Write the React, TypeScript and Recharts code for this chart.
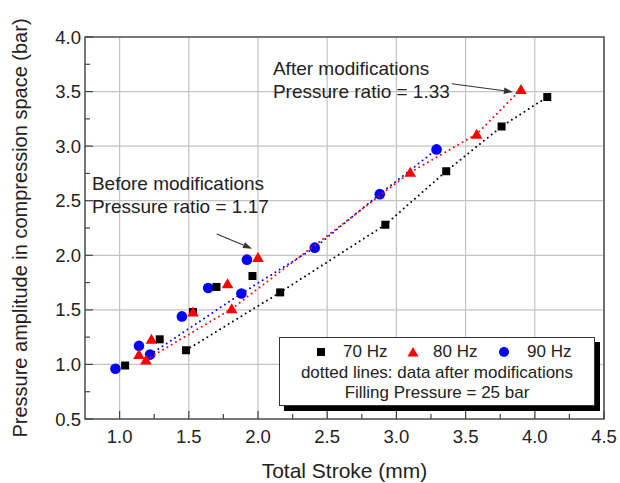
import React from 'react';
import {
  CartesianGrid,
  ComposedChart,
  ReferenceArea,
  ReferenceDot,
  ReferenceLine,
  Scatter,
  XAxis,
  YAxis,
} from 'recharts';

// values: total stroke (mm) and pressure amplitude (bar)
const stroke70Before = [1.04, 1.29, 1.53, 1.7, 1.96];
const pressure70Before = [0.99, 1.23, 1.48, 1.71, 1.81];
const stroke70After = [1.48, 2.16, 2.92, 3.36, 3.76, 4.09];
const pressure70After = [1.13, 1.66, 2.28, 2.77, 3.18, 3.45];

const stroke80Before = [1.14, 1.23, 1.53, 1.78, 2.0];
const pressure80Before = [1.09, 1.23, 1.48, 1.74, 1.98];
const stroke80After = [1.19, 1.81, 3.1, 3.58, 3.9];
const pressure80After = [1.04, 1.51, 2.76, 3.11, 3.52];

const stroke90Before = [0.97, 1.14, 1.45, 1.64, 1.92];
const pressure90Before = [0.96, 1.17, 1.44, 1.7, 1.96];
const stroke90After = [1.22, 1.88, 2.41, 2.88, 3.29];
const pressure90After = [1.09, 1.65, 2.07, 2.56, 2.97];

const xMajorTicks = [1.0, 1.5, 2.0, 2.5, 3.0, 3.5, 4.0, 4.5];
const xMinorTicks = [1.25, 1.75, 2.25, 2.75, 3.25, 3.75, 4.25];
const yMajorTicks = [0.5, 1.0, 1.5, 2.0, 2.5, 3.0, 3.5, 4.0];
const yMinorTicks = [0.75, 1.25, 1.75, 2.25, 2.75, 3.25, 3.75];

// annotation anchors in data units
const afterText = { x: 2.108, y: 3.653, lines: ['After modifications', 'Pressure ratio = 1.33'] };
const beforeText = { x: 0.8, y: 2.599, lines: ['Before modifications', 'Pressure ratio = 1.17'] };
const afterArrow = [{ x: 3.4, y: 3.571 }, { x: 3.842, y: 3.497 }];
const beforeArrow = [{ x: 1.702, y: 2.196 }, { x: 1.957, y: 2.061 }];

const font = '"Liberation Sans", Arial, sans-serif';
const textColor = '#222';

const zip = (xs: number[], ys: number[]) => xs.map((x, i) => ({ x, y: ys[i] }));

const Square = (p: any) => <rect x={p.cx - 4} y={p.cy - 4} width={8} height={8} fill="#000" />;
const Triangle = (p: any) => (
  <polygon
    points={`${p.cx},${p.cy - 5.5} ${p.cx + 5.8},${p.cy + 4.5} ${p.cx - 5.8},${p.cy + 4.5}`}
    fill="#ff0000"
  />
);
const Circle = (p: any) => <circle cx={p.cx} cy={p.cy} r={5.3} fill="#0000ff" />;

const dotted = (color: string) => ({
  stroke: color,
  strokeWidth: 2,
  strokeDasharray: '0 5',
  strokeLinecap: 'round' as const,
});

const XTick = (props: any) => {
  const { x, y, payload } = props;
  const major = xMajorTicks.includes(payload.value);
  return (
    <g>
      <line x1={x} x2={x} y1={y} y2={y - (major ? 8 : 5)} stroke="#444" strokeWidth={1.2} />
      {major && (
        <text x={x} y={y + 24} textAnchor="middle" fontSize={18.5} fontFamily={font} fill={textColor}>
          {payload.value.toFixed(1)}
        </text>
      )}
    </g>
  );
};

const YTick = (props: any) => {
  const { x, y, payload } = props;
  const major = yMajorTicks.includes(payload.value);
  return (
    <g>
      <line x1={x} x2={x + (major ? 8 : 5)} y1={y} y2={y} stroke="#444" strokeWidth={1.2} />
      {major && (
        <text x={x - 4} y={y + 6.5} textAnchor="end" fontSize={18.5} fontFamily={font} fill={textColor}>
          {payload.value.toFixed(1)}
        </text>
      )}
    </g>
  );
};

const TextBlock = (lines: string[]) => (p: any) => (
  <text fontSize={19} fontFamily={font} fill={textColor}>
    {lines.map((l, i) => (
      <tspan key={i} x={p.cx} y={p.cy + i * 23}>
        {l}
      </tspan>
    ))}
  </text>
);

const Arrow = (p: any) => {
  const { x1, y1, x2, y2 } = p;
  const a = Math.atan2(y2 - y1, x2 - x1);
  const len = 9;
  const w = 3.2;
  const bx = x2 - len * Math.cos(a);
  const by = y2 - len * Math.sin(a);
  const nx = -Math.sin(a) * w;
  const ny = Math.cos(a) * w;
  return (
    <g>
      <line x1={x1} y1={y1} x2={bx} y2={by} stroke="#333" strokeWidth={1.1} />
      <polygon points={`${x2},${y2} ${bx + nx},${by + ny} ${bx - nx},${by - ny}`} fill="#333" />
    </g>
  );
};

const legendMarker = (kind: string) => (
  <svg width={12} height={12} style={{ position: 'absolute', left: -6, top: -6 }}>
    {kind === 'square' && <rect x={2} y={2} width={8} height={8} fill="#000" />}
    {kind === 'triangle' && <polygon points="6,1 11.5,10.5 0.5,10.5" fill="#ff0000" />}
    {kind === 'circle' && <circle cx={6} cy={6} r={5} fill="#0000ff" />}
  </svg>
);

const Legend = () => {
  const item = (left: number, content: React.ReactNode) => (
    <div style={{ position: 'absolute', left, top: 14 }}>{content}</div>
  );
  const label = (left: number, text: string) => (
    <span style={{ position: 'absolute', left, top: 4, lineHeight: '20px', whiteSpace: 'nowrap' }}>{text}</span>
  );
  return (
    <div
      style={{
        position: 'absolute',
        left: 279,
        top: 337,
        width: 314,
        height: 67,
        border: '1px solid #333',
        background: '#fff',
        boxShadow: '5px 5px 0 #000',
        fontFamily: font,
        fontSize: 17,
        color: textColor,
      }}
    >
      {item(41, legendMarker('square'))}
      {label(63, '70 Hz')}
      {item(133, legendMarker('triangle'))}
      {label(153, '80 Hz')}
      {item(224, legendMarker('circle'))}
      {label(247, '90 Hz')}
      <div style={{ position: 'absolute', left: 0, right: 0, top: 25, textAlign: 'center', lineHeight: '20px', whiteSpace: 'nowrap' }}>
        dotted lines: data after modifications
      </div>
      <div style={{ position: 'absolute', left: 0, right: 0, top: 45, textAlign: 'center', lineHeight: '20px' }}>
        Filling Pressure = 25 bar
      </div>
    </div>
  );
};

export default function App() {
  return (
    <div style={{ position: 'absolute', left: 0, top: 0, width: 620, height: 483, background: '#fff' }}>
      <ComposedChart width={620} height={483} margin={{ top: 37, right: 16, bottom: 0, left: 0 }}>
        <CartesianGrid
          stroke="#c4c4c4"
          strokeWidth={1.2}
          horizontalValues={yMajorTicks}
          verticalValues={xMajorTicks}
        />
        <XAxis
          type="number"
          dataKey="x"
          domain={[0.75, 4.5]}
          ticks={[...xMajorTicks, ...xMinorTicks].sort((a, b) => a - b)}
          interval={0}
          tickSize={0}
          tickMargin={0}
          axisLine={false}
          tick={XTick}
          height={64}
          label={{
            value: 'Total Stroke (mm)',
            position: 'insideBottom',
            offset: 5,
            style: { fontSize: 21, fontFamily: font, fill: textColor },
          }}
        />
        <YAxis
          type="number"
          dataKey="y"
          domain={[0.5, 4.0]}
          ticks={[...yMajorTicks, ...yMinorTicks].sort((a, b) => a - b)}
          interval={0}
          tickSize={0}
          tickMargin={0}
          axisLine={false}
          tick={YTick}
          width={85}
          label={{
            value: 'Pressure amplitude in compression space (bar)',
            angle: -90,
            position: 'insideLeft',
            offset: 20,
            style: { fontSize: 20, fontFamily: font, fill: textColor, textAnchor: 'middle' },
          }}
        />
        <ReferenceArea x1={0.75} x2={4.5} y1={0.5} y2={4.0} fill="none" stroke="#555" strokeWidth={1.6} />
        <Scatter data={zip(stroke90After, pressure90After)} shape={Circle} line={dotted('#0000ff')} isAnimationActive={false} />
        <Scatter data={zip(stroke80After, pressure80After)} shape={Triangle} line={dotted('#ff0000')} isAnimationActive={false} />
        <Scatter data={zip(stroke70After, pressure70After)} shape={Square} line={dotted('#000')} isAnimationActive={false} />
        <Scatter data={zip(stroke90Before, pressure90Before)} shape={Circle} isAnimationActive={false} />
        <Scatter data={zip(stroke70Before, pressure70Before)} shape={Square} isAnimationActive={false} />
        <Scatter data={zip(stroke80Before, pressure80Before)} shape={Triangle} isAnimationActive={false} />
        <ReferenceLine segment={afterArrow} shape={Arrow} />
        <ReferenceLine segment={beforeArrow} shape={Arrow} />
        <ReferenceDot x={afterText.x} y={afterText.y} shape={TextBlock(afterText.lines)} />
        <ReferenceDot x={beforeText.x} y={beforeText.y} shape={TextBlock(beforeText.lines)} />
      </ComposedChart>
      <Legend />
    </div>
  );
}
